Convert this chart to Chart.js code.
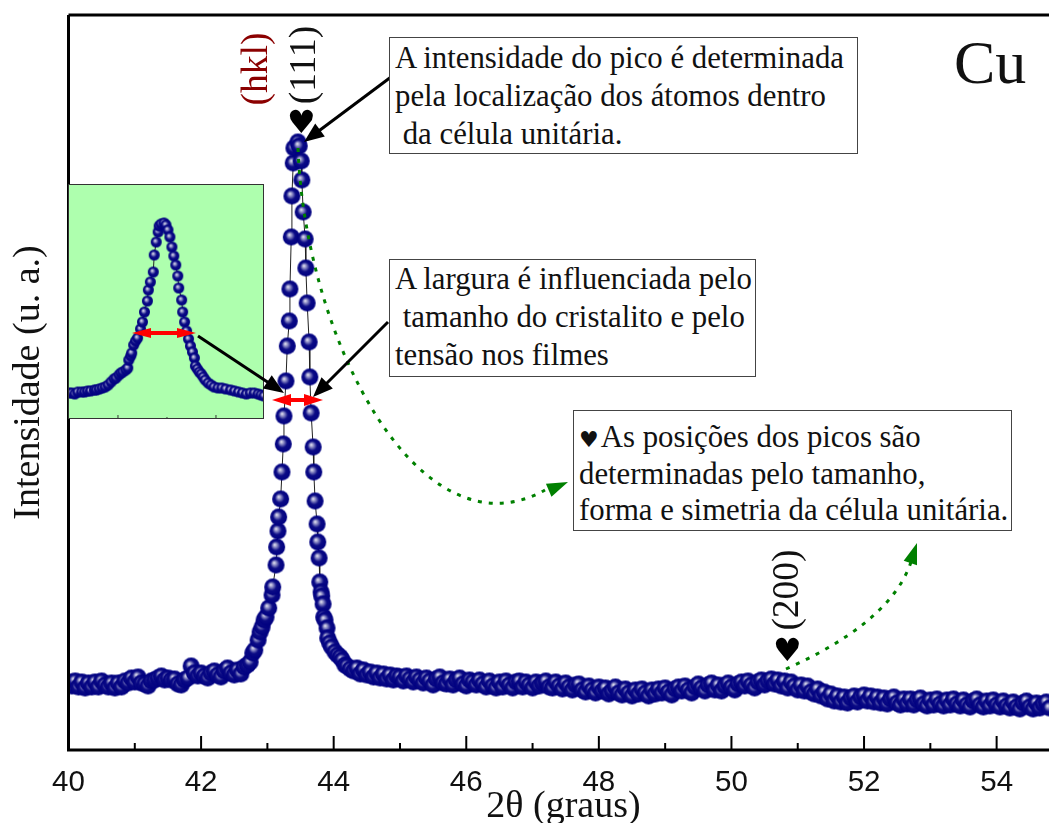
<!DOCTYPE html>
<html>
<head>
<meta charset="utf-8">
<style>
  html, body { margin: 0; padding: 0; background: #fff; overflow: hidden; }
  #stage { position: relative; width: 1049px; height: 823px; overflow: hidden; }
  canvas { position: absolute; left: 0; top: 0; }
  .note, .lbl { position: absolute; font-family: "Liberation Serif", serif; color: #111; white-space: pre; }
  .note { background: #fff; border: 1.5px solid #444; box-sizing: border-box; font-size: 30.8px; line-height: 38px; padding: 0 0 0 5px; }
  .rot { transform: translate(-50%, -50%) rotate(-90deg); font-size: 37.5px; line-height: 1; }
  .heart { font-family: "DejaVu Sans", sans-serif; }
</style>
<script src="https://cdn.jsdelivr.net/npm/chart.js@4"></script>
</head>
<body>
<div id="stage">
  <canvas id="mainChart" width="1049" height="823"></canvas>
  <canvas id="insetChart" width="1049" height="823"></canvas>

  <div class="note" style="left:389px;top:37px;width:469px;height:117px;padding-top:1px">A intensidade do pico é determinada
pela localização dos átomos dentro
 da célula unitária.</div>
  <div class="note" style="left:389px;top:259px;width:367px;height:118px">A largura é influenciada pelo
 tamanho do cristalito e pelo
tensão nos filmes</div>
  <div class="note" style="left:573px;top:410px;width:439px;height:121px;padding-top:8px;line-height:36.5px"><span class="heart" style="font-size:22px;line-height:0;margin-right:2px">♥</span>As posições dos picos são
determinadas pelo tamanho,
forma e simetria da célula unitária.</div>

  <div class="lbl" style="left:954px;top:28px;font-size:62px;line-height:1.1">Cu</div>
  <div class="lbl rot" style="left:255px;top:69px;color:#8b0000">(hkl)</div>
  <div class="lbl rot" style="left:303px;top:65px">(111)</div>
  <div class="lbl rot" style="left:786px;top:590px">(200)</div>
  <div class="lbl heart" style="left:287px;top:105px;font-size:32px;line-height:1.1;color:#000">♥</div>
  <div class="lbl heart" style="left:773px;top:633px;font-size:32px;line-height:1.1;color:#000">♥</div>
</div>

<script>
// tick positions
const xMajorTicks = [40, 42, 44, 46, 48, 50, 52, 54];
const xMinorTicks = [41, 43, 45, 47, 49, 51, 53];
const insetMajorTicks = [43, 44];
const insetMinorTicks = [43.5];

// 2theta / intensity: background left of the peak
const leftX = [40.00, 40.05, 40.10, 40.15, 40.20, 40.25, 40.30, 40.35, 40.40, 40.45,
  40.50, 40.55, 40.60, 40.65, 40.70, 40.75, 40.80, 40.85, 40.90, 40.95,
  41.00, 41.05, 41.10, 41.15, 41.20, 41.25, 41.30, 41.35, 41.40, 41.45,
  41.50, 41.55, 41.60, 41.65, 41.70, 41.75, 41.80, 41.85, 41.90, 41.95,
  42.00, 42.05, 42.10, 42.15, 42.20, 42.25, 42.30, 42.35, 42.40, 42.45,
  42.50, 42.55, 42.60, 42.65, 42.70];
const leftY = [68, 64, 69, 63, 68, 62, 67, 63, 68, 63,
  69, 65, 63, 67, 62, 67, 63, 69, 67, 72,
  68, 73, 67, 66, 64, 69, 70, 72, 74, 70,
  72, 70, 71, 66, 65, 70, 72, 84, 77, 74,
  77, 74, 72, 77, 79, 75, 73, 79, 82, 77,
  75, 80, 76, 83, 85];

// (111) peak
const peakX = [42.74, 42.78, 42.81, 42.86, 42.89, 42.92, 42.95, 42.98, 43.02, 43.07,
  43.08, 43.13, 43.14, 43.16, 43.17, 43.20, 43.22, 43.24, 43.25, 43.28,
  43.30, 43.33, 43.34, 43.36, 43.37, 43.39, 43.40, 43.46, 43.48, 43.51,
  43.52, 43.54, 43.57, 43.58, 43.60, 43.63, 43.64, 43.66, 43.69, 43.70,
  43.72, 43.75, 43.76, 43.78, 43.79, 43.81, 43.82, 43.84, 43.85, 43.87,
  43.90, 43.91, 43.94, 43.97, 44.02, 44.06, 44.10, 44.13, 44.17];
const peakY = [88, 97, 100, 110, 118, 123, 130, 133, 142, 155,
  163, 185, 203, 219, 233, 251, 278, 306, 334, 369,
  404, 429, 461, 513, 554, 587, 602, 608, 604, 589,
  570, 538, 511, 482, 447, 408, 373, 337, 303, 278,
  249, 226, 208, 192, 168, 158, 154, 146, 133, 130,
  122, 112, 107, 103, 98, 95, 93, 90, 85];

// background right of the peak, with the (200) bump
const rightX = [44.20, 44.25, 44.30, 44.35, 44.40, 44.45, 44.50, 44.55, 44.60, 44.65,
  44.70, 44.75, 44.80, 44.85, 44.90, 44.95, 45.00, 45.05, 45.10, 45.15,
  45.20, 45.25, 45.30, 45.35, 45.40, 45.45, 45.50, 45.55, 45.60, 45.65,
  45.70, 45.75, 45.80, 45.85, 45.90, 45.95, 46.00, 46.05, 46.10, 46.15,
  46.20, 46.25, 46.30, 46.35, 46.40, 46.45, 46.50, 46.55, 46.60, 46.65,
  46.70, 46.75, 46.80, 46.85, 46.90, 46.95, 47.00, 47.05, 47.10, 47.15,
  47.20, 47.25, 47.30, 47.35, 47.40, 47.45, 47.50, 47.55, 47.60, 47.65,
  47.70, 47.75, 47.80, 47.85, 47.90, 47.95, 48.00, 48.05, 48.10, 48.15,
  48.20, 48.25, 48.30, 48.35, 48.40, 48.45, 48.50, 48.55, 48.60, 48.65,
  48.70, 48.75, 48.80, 48.85, 48.90, 48.95, 49.00, 49.05, 49.10, 49.15,
  49.20, 49.25, 49.30, 49.35, 49.40, 49.45, 49.50, 49.55, 49.60, 49.65,
  49.70, 49.75, 49.80, 49.85, 49.90, 49.95, 50.00, 50.05, 50.10, 50.15,
  50.20, 50.25, 50.30, 50.35, 50.40, 50.45, 50.50, 50.55, 50.60, 50.65,
  50.70, 50.75, 50.80, 50.85, 50.90, 50.95, 51.00, 51.05, 51.10, 51.15,
  51.20, 51.25, 51.30, 51.35, 51.40, 51.45, 51.50, 51.55, 51.60, 51.65,
  51.70, 51.75, 51.80, 51.85, 51.90, 51.95, 52.00, 52.05, 52.10, 52.15,
  52.20, 52.25, 52.30, 52.35, 52.40, 52.45, 52.50, 52.55, 52.60, 52.65,
  52.70, 52.75, 52.80, 52.85, 52.90, 52.95, 53.00, 53.05, 53.10, 53.15,
  53.20, 53.25, 53.30, 53.35, 53.40, 53.45, 53.50, 53.55, 53.60, 53.65,
  53.70, 53.75, 53.80, 53.85, 53.90, 53.95, 54.00, 54.05, 54.10, 54.15,
  54.20, 54.25, 54.30, 54.35, 54.40, 54.45, 54.50, 54.55, 54.60, 54.65,
  54.70, 54.75, 54.80, 54.85];
const rightY = [84, 81, 79, 82, 76, 80, 75, 78, 73, 77,
  72, 76, 71, 75, 70, 74, 73, 69, 74, 71,
  68, 73, 70, 67, 72, 69, 65, 71, 73, 67,
  66, 71, 65, 70, 72, 66, 64, 70, 68, 65,
  70, 66, 63, 69, 64, 62, 68, 63, 69, 65,
  62, 68, 69, 63, 68, 65, 62, 68, 64, 67,
  69, 63, 62, 68, 64, 61, 67, 63, 60, 65,
  66, 60, 58, 64, 60, 57, 63, 59, 62, 56,
  59, 63, 57, 55, 61, 57, 54, 60, 56, 61,
  57, 54, 60, 56, 61, 57, 62, 58, 55, 61,
  63, 59, 64, 60, 57, 63, 66, 62, 59, 65,
  67, 60, 65, 59, 64, 67, 63, 60, 66, 68,
  64, 69, 65, 62, 68, 70, 65, 69, 71, 66,
  70, 64, 69, 62, 68, 64, 60, 65, 59, 64,
  58, 56, 61, 54, 58, 51, 56, 49, 54, 48,
  53, 47, 52, 54, 48, 53, 55, 49, 54, 48,
  53, 47, 52, 46, 51, 53, 47, 45, 51, 46,
  51, 45, 50, 52, 46, 44, 50, 45, 51, 46,
  44, 50, 45, 51, 46, 44, 50, 45, 43, 49,
  51, 45, 43, 49, 44, 50, 45, 43, 49, 44,
  42, 48, 43, 41, 47, 49, 43, 41, 47, 42,
  46, 48, 42, 47];

// inset: same peak zoomed in
const insetX = [42.50, 42.53, 42.56, 42.59, 42.63, 42.66, 42.69, 42.72, 42.76, 42.78,
  42.81, 42.84, 42.87, 42.90, 42.93, 42.96, 42.98, 43.01, 43.03, 43.05,
  43.08, 43.10, 43.11, 43.13, 43.14, 43.16, 43.18, 43.20, 43.23, 43.25,
  43.27, 43.30, 43.31, 43.33, 43.36, 43.37, 43.39, 43.41, 43.42, 43.44,
  43.47, 43.49, 43.51, 43.53, 43.55, 43.57, 43.59, 43.61, 43.62, 43.65,
  43.66, 43.68, 43.70, 43.72, 43.74, 43.76, 43.78, 43.79, 43.81, 43.83,
  43.85, 43.87, 43.89, 43.92, 43.95, 43.98, 44.02, 44.06, 44.10, 44.15,
  44.19, 44.23, 44.27, 44.31, 44.35, 44.39, 44.43, 44.46, 44.49];
const insetY = [26, 26, 25, 27, 27, 27, 28, 28, 29, 29,
  30, 31, 32, 34, 37, 40, 41, 44, 46, 47,
  49, 51, 59, 63, 66, 74, 78, 81, 90, 97,
  107, 118, 129, 137, 147, 164, 177, 187, 193, 195,
  196, 194, 189, 182, 172, 163, 154, 143, 131, 119,
  107, 97, 88, 80, 73, 67, 61, 53, 50, 47,
  45, 42, 39, 36, 34, 32, 31, 31, 30, 29,
  28, 27, 26, 25, 26, 26, 25, 24, 23];

// ball marker like the Origin sphere symbol
function makeBall(r) {
  const size = Math.ceil(r * 2 + 2);
  const c = document.createElement('canvas');
  c.width = size;
  c.height = size;
  const ctx = c.getContext('2d');
  const mid = size / 2;
  const g = ctx.createRadialGradient(mid - r * 0.25, mid - r * 0.28, 0, mid, mid, r);
  g.addColorStop(0, '#eeeef6');
  g.addColorStop(0.2, '#a0a0cf');
  g.addColorStop(0.55, '#0c0c86');
  g.addColorStop(1, '#000080');
  ctx.fillStyle = g;
  ctx.beginPath();
  ctx.arc(mid, mid, r, 0, Math.PI * 2);
  ctx.fill();
  return c;
}

function arrowHead(ctx, fromX, fromY, toX, toY, len, halfW) {
  const a = Math.atan2(toY - fromY, toX - fromX);
  ctx.beginPath();
  ctx.moveTo(toX, toY);
  ctx.lineTo(toX - len * Math.cos(a) + halfW * Math.sin(a), toY - len * Math.sin(a) - halfW * Math.cos(a));
  ctx.lineTo(toX - len * Math.cos(a) - halfW * Math.sin(a), toY - len * Math.sin(a) + halfW * Math.cos(a));
  ctx.closePath();
  ctx.fill();
}

function blackArrow(ctx, x1, y1, x2, y2) {
  ctx.strokeStyle = '#000';
  ctx.fillStyle = '#000';
  ctx.lineWidth = 3;
  ctx.beginPath();
  ctx.moveTo(x1, y1);
  ctx.lineTo(x1 + (x2 - x1) * 0.9, y1 + (y2 - y1) * 0.9);
  ctx.stroke();
  arrowHead(ctx, x1, y1, x2, y2, 20, 8);
}

function redWidth(ctx, x1, x2, y, len, halfW) {
  ctx.strokeStyle = '#f00';
  ctx.fillStyle = '#f00';
  ctx.lineWidth = 4;
  ctx.beginPath();
  ctx.moveTo(x1 + len, y);
  ctx.lineTo(x2 - len, y);
  ctx.stroke();
  arrowHead(ctx, x2, y, x1, y, len, halfW);
  arrowHead(ctx, x1, y, x2, y, len, halfW);
}

function greenCurve(ctx, p0, p1, p2, p3, tipFrom, tip) {
  ctx.strokeStyle = '#008000';
  ctx.fillStyle = '#008000';
  ctx.lineWidth = 3;
  ctx.setLineDash([4, 7]);
  ctx.beginPath();
  ctx.moveTo(p0[0], p0[1]);
  ctx.bezierCurveTo(p1[0], p1[1], p2[0], p2[1], p3[0], p3[1]);
  ctx.stroke();
  ctx.setLineDash([]);
  arrowHead(ctx, tipFrom[0], tipFrom[1], tip[0], tip[1], 21, 7);
}

function ticksInside(chart, major, minor, majorLen, minorLen, width, color) {
  const ctx = chart.ctx;
  const xs = chart.scales.x;
  const bottom = chart.chartArea.bottom;
  ctx.save();
  ctx.strokeStyle = color;
  ctx.lineWidth = width;
  major.forEach((v) => {
    ctx.beginPath();
    ctx.moveTo(xs.getPixelForValue(v), bottom);
    ctx.lineTo(xs.getPixelForValue(v), bottom - majorLen);
    ctx.stroke();
  });
  minor.forEach((v) => {
    ctx.beginPath();
    ctx.moveTo(xs.getPixelForValue(v), bottom);
    ctx.lineTo(xs.getPixelForValue(v), bottom - minorLen);
    ctx.stroke();
  });
  ctx.restore();
}

const mainFrame = {
  id: 'mainFrame',
  afterDraw(chart) {
    const { ctx, chartArea } = chart;
    ticksInside(chart, xMajorTicks, xMinorTicks, 14, 7, 2, '#000');
    ctx.save();
    ctx.strokeStyle = '#000';
    ctx.lineWidth = 3;
    ctx.beginPath();
    ctx.moveTo(chartArea.left, 15);
    ctx.lineTo(chartArea.left, chartArea.bottom);
    ctx.lineTo(chartArea.right, chartArea.bottom);
    ctx.moveTo(chartArea.left, chartArea.top);
    ctx.lineTo(chartArea.right, chartArea.top);
    ctx.stroke();
    ctx.restore();
  },
};

const insetFrame = {
  id: 'insetFrame',
  beforeDraw(chart) {
    const { ctx, chartArea: a } = chart;
    ctx.save();
    ctx.fillStyle = '#aeffae';
    ctx.fillRect(a.left, a.top, a.right - a.left, a.bottom - a.top);
    ctx.restore();
  },
  afterDraw(chart) {
    const { ctx, chartArea: a } = chart;
    ticksInside(chart, insetMajorTicks, insetMinorTicks, 4, 2, 1, '#333');
    ctx.save();
    ctx.strokeStyle = '#333';
    ctx.lineWidth = 1;
    ctx.strokeRect(a.left + 0.5, a.top + 0.5, a.right - a.left - 1, a.bottom - a.top - 1);

    // annotations sit on top of both charts
    greenCurve(ctx, [298, 148], [305, 340], [420, 560], [545, 490], [547, 491], [568, 482]);
    greenCurve(ctx, [786, 669], [840, 645], [895, 610], [911, 562], [908, 570], [917, 543]);
    blackArrow(ctx, 391, 77, 304, 142);
    blackArrow(ctx, 388, 322, 313, 397);
    blackArrow(ctx, 198, 336, 284, 393);
    redWidth(ctx, 272, 323, 400, 19, 6);
    redWidth(ctx, 132, 196, 333, 19, 5);
    ctx.restore();
  },
};

function pts(xs, ys) {
  return xs.map((x, i) => ({ x, y: ys[i] }));
}

const mainPoints = pts(leftX, leftY).concat(pts(peakX, peakY), pts(rightX, rightY));

new Chart(document.getElementById('mainChart'), {
  type: 'scatter',
  data: {
    datasets: [{
      label: 'Cu',
      data: mainPoints,
      showLine: true,
      borderColor: '#222',
      borderWidth: 1,
      pointStyle: makeBall(8.5),
      pointRadius: 8,
      pointHoverRadius: 8,
    }],
  },
  options: {
    responsive: false,
    animation: false,
    layout: { autoPadding: false, padding: { top: 15 } },
    plugins: { legend: { display: false }, tooltip: { enabled: false } },
    scales: {
      x: {
        type: 'linear',
        min: 40,
        max: 54.79,
        afterFit: (s) => {
          s.height = 73;
          s.paddingLeft = 0;
          s.paddingRight = 0;
        },
        afterBuildTicks: (s) => { s.ticks = xMajorTicks.map((v) => ({ value: v })); },
        grid: { display: false },
        border: { display: false },
        ticks: {
          padding: 7,
          color: '#111',
          maxRotation: 0,
          font: { family: '"Liberation Sans", Arial, sans-serif', size: 29.5 },
        },
        title: {
          display: true,
          text: '\u00a02θ (graus)',
          color: '#111',
          padding: { top: 0, bottom: -7 },
          font: { family: '"Liberation Serif", serif', size: 38 },
        },
      },
      y: {
        type: 'linear',
        min: 0,
        max: 735,
        afterFit: (s) => { s.width = 68.5; },
        grid: { display: false },
        border: { display: false },
        ticks: { display: false },
        title: {
          display: true,
          text: 'Intensidade (u. a.)',
          color: '#111',
          padding: { top: 6, bottom: 0 },
          font: { family: '"Liberation Serif", serif', size: 38 },
        },
      },
    },
  },
  plugins: [mainFrame],
});

new Chart(document.getElementById('insetChart'), {
  type: 'scatter',
  data: {
    datasets: [{
      label: 'inset',
      data: pts(insetX, insetY),
      showLine: true,
      borderColor: '#222',
      borderWidth: 1,
      pointStyle: makeBall(5.5),
      pointRadius: 5,
      pointHoverRadius: 5,
    }],
  },
  options: {
    responsive: false,
    animation: false,
    layout: { autoPadding: false, padding: { left: 68, top: 184, right: 785, bottom: 404 } },
    plugins: { legend: { display: false }, tooltip: { enabled: false } },
    scales: {
      x: { type: 'linear', min: 42.49, max: 44.49, display: false },
      y: { type: 'linear', min: 0, max: 235, display: false },
    },
  },
  plugins: [insetFrame],
});
</script>
</body>
</html>
